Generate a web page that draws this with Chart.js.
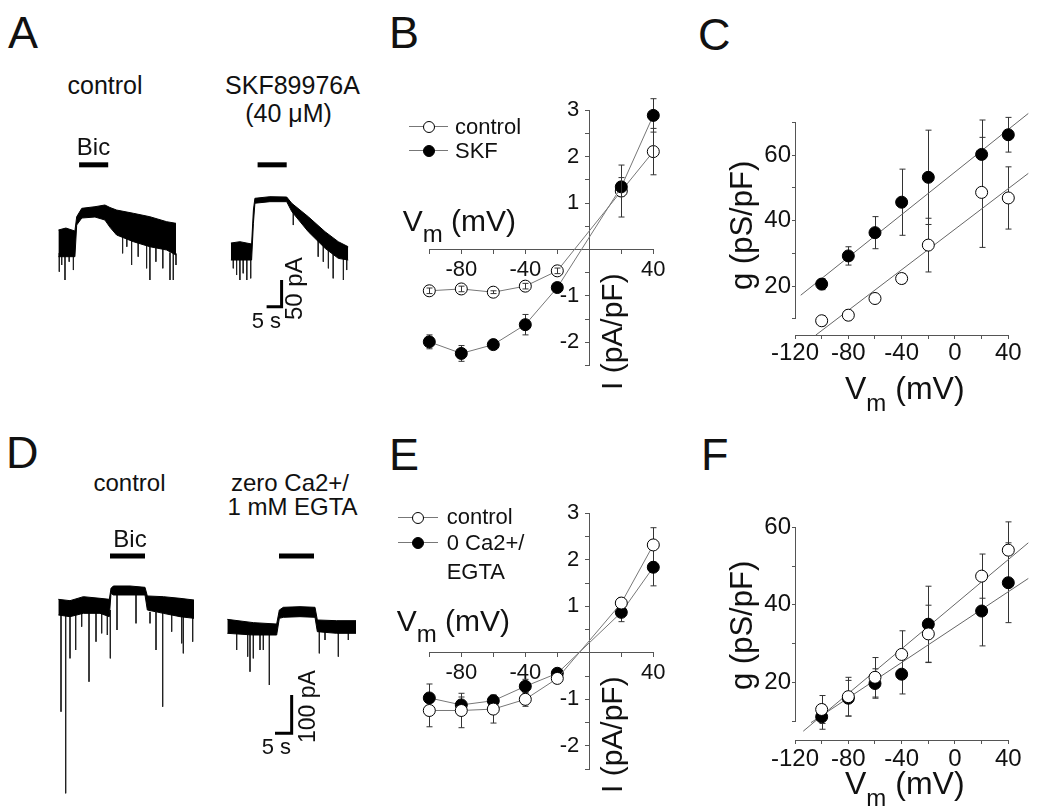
<!DOCTYPE html>
<html>
<head>
<meta charset="utf-8">
<script src="https://cdn.jsdelivr.net/npm/chart.js@4.4.1/dist/chart.umd.min.js"></script>
<style>
  body { margin: 0; width: 1050px; height: 812px; position: relative; overflow: hidden; background: #fff;
         font-family: 'Liberation Sans', Arial, Helvetica, sans-serif; color: #111; }
  .t { position: absolute; white-space: nowrap; line-height: 1; }
  canvas { position: absolute; }
</style>
</head>
<body>
<script>
// ---- traces (A, D): time in s, current in pA, edges of the noise band ----
const a1T   = [2.8, 5.3, 8.3, 8.9, 10.6, 15, 18.3, 20, 22.2, 27.8, 33.3, 38.9, 42];
const a1Top = [28, 31.7, 26.1, 52.8, 68.5, 71.5, 74.7, 70, 65.3, 59.2, 52.8, 43.5, 40.5];
const a1Bot = [-21.8, -21.8, -21.8, 37.3, 50.4, 52.3, 46.7, 33, 18.7, 6.2, -3.2, -9.3, -18.7];
// [time, from, tip]
const a1Spikes = [[3.1, -15, -49.8], [3.9, -15, -37.3], [5.0, -15, -65.3], [6.4, -15, -31.2], [7.8, -15, -46.7],
  [24.2, 20, -15.5], [25.6, 12, -3.2], [27.2, 8, -37.3], [29.4, 4, -21.8], [32.2, 0, -43.5], [33.3, -2, -65.3],
  [35.3, -5, -31.2], [37.6, -8, -43.5], [40.0, -14, -65.3], [41.1, -15, -65.3], [42.0, -16, -37.3]];

const a2T   = [60.3, 63.3, 67.2, 67.8, 68.3, 73.3, 78.9, 80.6, 86.1, 91.7, 96.1, 99.4];
const a2Top = [3.7, 6.2, 1.9, 65.3, 87.2, 90.2, 89.6, 77.8, 52.8, 24.8, 6.2, -3.2];
const a2Bot = [-28, -28, -28, 40, 78, 80.9, 80.9, 62.4, 24.8, -6.2, -24.9, -28];
const a2Spikes = [[61.1, -20, -43.5], [62.2, -20, -56], [63.3, -20, -65.3], [64.4, -20, -52.8], [65.6, -20, -65.3],
  [66.9, -20, -62.2], [81.1, 60, 37.3], [89.4, 10, -21.8], [91.1, 0, -31.2], [92.8, -5, -43.5],
  [94.4, -10, -62.2], [97.8, -20, -65.3], [98.9, -24, -46.7]];

const aBicT = [[9.7, 19.4], [69.2, 78.9]];
const aBicI = 149.7;
const aScaleT = [77.2, 77.2, 72.2];   // 5 s
const aScaleI = [-65.3, -115.3, -115.3]; // 50 pA

const d1T   = [2.5, 6, 10, 15, 17.8, 18.3, 19, 24, 28.5, 29.2, 34, 39, 43.2];
const d1Top = [27.9, 24.4, 34.8, 30.5, 27.9, 56.6, 62.7, 62.7, 59.2, 36.6, 34.8, 30.5, 26.1];
const d1Bot = [-13.1, -17.4, -8.7, -8.7, -17.4, 43.5, 39.2, 39.2, 39.2, 0, -8.7, -17.4, -21.8];
const d1Spikes = [[3.3, -10, -265.5], [4.7, -10, -478.6], [6.0, -10, -126.2], [7.7, -8, -104.4], [9.5, -5, -43.5],
  [11.7, -5, -187.2], [13.8, -5, -82.7], [15.5, -5, -60.9], [17.2, -10, -65.3], [18.1, 0, -126.2],
  [20.1, 40, -52.2], [25.8, 40, -34.8], [30, -5, -34.8], [31.8, -5, -104.4], [33.8, -5, -252.5],
  [36.5, -8, -56.6], [39.5, -10, -87], [40, -10, -113.1], [42.8, -15, -82.7]];

const d2T   = [53.2, 61, 68, 68.8, 70, 75, 79.5, 80.2, 86, 91.8];
const d2Top = [-24.4, -33, -36.6, 0, 7, 8.7, 7, -26.1, -27.9, -27.9];
const d2Bot = [-60.9, -65.3, -65.3, -21.8, -19.1, -17.4, -19.1, -56.6, -60.9, -60.9];
const d2Spikes = [[56, -55, -104.4], [59.3, -60, -121.8], [60, -60, -161.1], [61, -60, -126.2], [63, -60, -104.4],
  [64, -60, -104.4], [65.8, -60, -195.8], [80.8, -50, -113.1], [82.5, -55, -78.3], [86.5, -55, -121.8],
  [89.5, -55, -78.3]];

const dBicT = [[18, 28.5], [68.7, 79.2]];
const dBicI = 141;
const dScaleT = [72.5, 72.5, 67.5];   // 5 s
const dScaleI = [-222, -322, -322];   // 100 pA

// ---- I-V curves (B, E) ----
const ivV = [-100, -80, -60, -40, -20, 20, 40];
const bControl    = [-0.89, -0.85, -0.92, -0.79, -0.46, 1.26, 2.11];
const bControlErr = [0.06, 0.06, 0.03, 0.06, 0.06, 0.56, 0.5];
const bSkf        = [-1.99, -2.24, -2.05, -1.62, -0.82, 1.35, 2.89];
const bSkfErr     = [0.15, 0.17, 0.1, 0.22, 0.05, 0.2, 0.36];

const eControl    = [-1.24, -1.24, -1.21, -1.0, -0.55, 1.07, 2.32];
const eControlErr = [0.35, 0.37, 0.3, 0.15, 0.05, 0.12, 0.37];
const eCa         = [-0.97, -1.12, -1.03, -0.72, -0.44, 0.87, 1.84];
const eCaErr      = [0.3, 0.17, 0.12, 0.15, 0.05, 0.2, 0.4];

const ivXTicks  = [-100, -80, -60, -40, -20, 0, 20, 40];
const ivXLabels = [-80, -40, 40];
const ivYTicks  = [-2.5, -2, -1.5, -1, -0.5, 0, 0.5, 1, 1.5, 2, 2.5, 3];
const ivYLabels = [-2, -1, 1, 2, 3];

// ---- conductance (C, F) ----
const gV = [-100, -80, -60, -40, -20, 20, 40];
const cSkf        = [20.6, 29.2, 36.3, 45.6, 53.2, 60.2, 66.2];
const cSkfErr     = [1.7, 2.8, 4.9, 10.1, 14.4, 10.5, 5.3];
const cControl    = [9.4, 11.1, 16.2, 22.3, 32.5, 48.6, 46.9];
const cControlErr = [1.5, 1.5, 0.5, 1.5, 8.2, 16.8, 9.5];
const cFitSkfV = [-115.7, 55], cFitSkfG = [17.2, 72.7];
const cFitControlV = [-104.5, 55], cFitControlG = [5, 54.4];

const fControl    = [13.0, 16.3, 21.3, 27.2, 32.5, 47.4, 54.1];
const fControlErr = [3.6, 5.0, 5.1, 6.1, 7.4, 5.7, 7.3];
const fCa         = [11.1, 15.9, 19.7, 22.1, 35.0, 38.4, 45.7];
const fCaErr      = [3.2, 4.6, 3.8, 5.1, 9.8, 9.0, 10.3];
const fFitControlV = [-113.8, 55], fFitControlG = [7.4, 56.0];
const fFitCaV = [-108, 55], fFitCaG = [9.6, 46.8];

const gXTicks  = [-120, -100, -80, -60, -40, -20, 0, 20, 40];
const gXLabels = [-120, -80, -40, 0, 40];
const gYLabels = [20, 40, 60];

// ---------------------------------------------------------------
Chart.defaults.font.family = "'Liberation Sans', Arial, Helvetica, sans-serif";
Chart.defaults.color = '#111';

const pts = (xs, ys) => xs.map((x, i) => ({ x, y: ys[i] }));
const spikePts = list => list.flatMap(([t, from, tip]) => [{ x: t, y: from }, { x: t, y: tip }, { x: t, y: null }]);

function makeCanvas(left, top, w, h) {
  const c = document.createElement('canvas');
  c.width = w; c.height = h;
  c.style.left = left + 'px'; c.style.top = top + 'px';
  c.style.width = w + 'px'; c.style.height = h + 'px';
  document.body.appendChild(c);
  return c;
}

function text(html, x, base, size, align) {
  const d = document.createElement('div');
  d.className = 't';
  d.innerHTML = html;
  d.style.fontSize = size + 'px';
  d.style.left = x + 'px';
  d.style.top = (base - 0.8465 * size) + 'px';
  if (align === 'center') d.style.transform = 'translateX(-50%)';
  if (align === 'right') d.style.transform = 'translateX(-100%)';
  document.body.appendChild(d);
}

// rotated -90deg, reading upwards; xBase = baseline x, yStart = where the text begins
function vtext(str, xBase, yStart, size) {
  const d = document.createElement('div');
  d.className = 't';
  d.textContent = str;
  d.style.fontSize = size + 'px';
  d.style.left = (xBase - 0.8465 * size) + 'px';
  d.style.top = yStart + 'px';
  d.style.transformOrigin = '0 0';
  d.style.transform = 'rotate(-90deg)';
  document.body.appendChild(d);
}

function legendRow(x0, x1, cy, filled, label, tx, base, size) {
  const ln = document.createElement('div');
  ln.style.cssText = `position:absolute;left:${x0}px;top:${cy - 0.5}px;width:${x1 - x0}px;height:1px;background:#777`;
  document.body.appendChild(ln);
  const cx = (x0 + x1) / 2;
  const c = document.createElement('div');
  c.style.cssText = `position:absolute;left:${cx - 6}px;top:${cy - 6}px;width:12px;height:12px;box-sizing:border-box;` +
    `border:1px solid #000;border-radius:50%;background:${filled ? '#000' : '#fff'}`;
  document.body.appendChild(c);
  text(label, tx, base, size);
}

const vmLabel = (big, small) =>
  `V<span style="font-size:${small}px;vertical-align:-${Math.round(big * 0.37)}px">m</span> (mV)`;

// error bars drawn through the chart's own scales
function drawErrors(chart, front) {
  const { ctx } = chart;
  const xs = chart.scales.x, ys = chart.scales.y;
  chart.data.datasets.forEach(ds => {
    if (!ds.err || !!ds.errFront !== front) return;
    ctx.save();
    ctx.strokeStyle = '#333';
    ctx.lineWidth = 1;
    ds.data.forEach((p, i) => {
      const px = Math.round(xs.getPixelForValue(p.x)) + 0.5;
      const top = ys.getPixelForValue(p.y + ds.err[i]);
      const bot = ys.getPixelForValue(p.y - ds.err[i]);
      ctx.beginPath();
      ctx.moveTo(px, top); ctx.lineTo(px, bot);
      ctx.moveTo(px - 3, top); ctx.lineTo(px + 3, top);
      ctx.moveTo(px - 3, bot); ctx.lineTo(px + 3, bot);
      ctx.stroke();
    });
    ctx.restore();
  });
}
const errorBars = {
  id: 'errorBars',
  beforeDatasetsDraw(chart) { drawErrors(chart, false); },
  afterDatasetsDraw(chart) { drawErrors(chart, true); }
};

const ticksAt = values => axis => { axis.ticks = values.map(value => ({ value })); };
const labelIf = list => v => (list.includes(v) ? String(v) : '');

function axisX(min, max, atY, tickVals, labelVals, tickLen, pad, size) {
  return {
    type: 'linear', min, max, position: { y: atY },
    afterBuildTicks: ticksAt(tickVals),
    grid: { drawOnChartArea: false, tickLength: tickLen, color: '#555' },
    border: { color: '#555', width: 1 },
    ticks: { autoSkip: false, maxRotation: 0, padding: pad, font: { size }, color: '#111', callback: labelIf(labelVals) }
  };
}
function axisY(min, max, atX, tickVals, tickLen) {
  return {
    type: 'linear', min, max, position: { x: atX },
    afterBuildTicks: ticksAt(tickVals),
    grid: { drawOnChartArea: false, tickLength: tickLen, color: '#555' },
    border: { color: '#555', width: 1 },
    ticks: { display: false }
  };
}
function axisYLabels(min, max, atX, labelVals, size) {
  return {
    type: 'linear', min, max, position: { x: atX },
    afterBuildTicks: ticksAt(labelVals),
    grid: { display: false, drawTicks: false },
    border: { display: false },
    ticks: { padding: 0, font: { size }, color: '#111' }
  };
}

function marker(filled) {
  return {
    pointRadius: 6, pointBorderWidth: 1, pointBorderColor: '#000',
    pointBackgroundColor: filled ? '#000' : '#fff', clip: false
  };
}

function plotChart(canvas, pad, scales, datasets) {
  return new Chart(canvas, {
    type: 'line',
    data: { datasets },
    plugins: [errorBars],
    options: {
      responsive: false, animation: false, devicePixelRatio: 1, events: [],
      layout: { padding: pad },
      plugins: { legend: { display: false }, tooltip: { enabled: false } },
      scales
    }
  });
}

// ---- trace panels ----
function traceChart(canvas, xr, yr, datasets) {
  return new Chart(canvas, {
    type: 'line',
    data: { datasets },
    options: {
      responsive: false, animation: false, devicePixelRatio: 1, events: [],
      layout: { padding: 0 },
      plugins: { legend: { display: false }, tooltip: { enabled: false } },
      scales: {
        x: { type: 'linear', display: false, min: xr[0], max: xr[1] },
        y: { type: 'linear', display: false, min: yr[0], max: yr[1] }
      }
    }
  });
}
const bandTop = (t, v) => ({ data: pts(t, v), borderColor: '#000', borderWidth: 1, pointRadius: 0, fill: false, clip: false });
const bandBot = (t, v) => ({ data: pts(t, v), borderColor: '#000', borderWidth: 1, pointRadius: 0, fill: '-1', backgroundColor: '#000', clip: false });
const spikeSet = list => ({ data: spikePts(list), borderColor: '#222', borderWidth: 1, pointRadius: 0, spanGaps: false, clip: false });
const barSet = (span, level) => ({ data: pts(span, [level, level]), borderColor: '#000', borderWidth: 5, borderCapStyle: 'butt', pointRadius: 0, clip: false });
const scaleSet = (t, v) => ({ data: pts(t, v), borderColor: '#000', borderWidth: 3, borderCapStyle: 'butt', pointRadius: 0, clip: false });

traceChart(makeCanvas(40, 130, 330, 210), [-3.333, 106.667], [-177.3, 214.7], [
  bandTop(a1T, a1Top), bandBot(a1T, a1Bot),
  bandTop(a2T, a2Top), bandBot(a2T, a2Bot),
  spikeSet(a1Spikes), spikeSet(a2Spikes),
  barSet(aBicT[0], aBicI), barSet(aBicT[1], aBicI),
  scaleSet(aScaleT, aScaleI)
]);

traceChart(makeCanvas(40, 520, 330, 280), [-3, 96], [-496.1, 235], [
  bandTop(d1T, d1Top), bandBot(d1T, d1Bot),
  bandTop(d2T, d2Top), bandBot(d2T, d2Bot),
  spikeSet(d1Spikes), spikeSet(d2Spikes),
  barSet(dBicT[0], dBicI), barSet(dBicT[1], dBicI),
  scaleSet(dScaleT, dScaleI)
]);

// ---- B ----
plotChart(makeCanvas(389, 90, 290, 320), { left: 40.3, top: 20.3, right: 25.7, bottom: 44.5 }, {
  x: axisX(-100, 40, 0, ivXTicks, ivXLabels, 4, 3, 22),
  y: axisY(-2.5, 3, 0, ivYTicks, 4),
  yl: axisYLabels(-2.5, 3, -6.25, ivYLabels, 22)
}, [
  Object.assign({ label: 'SKF', data: pts(ivV, bSkf), err: bSkfErr, borderColor: '#777', borderWidth: 1, yAxisID: 'y' }, marker(true)),
  Object.assign({ label: 'control', data: pts(ivV, bControl), err: bControlErr, errFront: true, borderColor: '#777', borderWidth: 1, yAxisID: 'y' }, marker(false))
]);

// ---- E ----
plotChart(makeCanvas(389, 493, 290, 312), { left: 40.3, top: 20.3, right: 25.7, bottom: 35.9 }, {
  x: axisX(-100, 40, 0, ivXTicks, ivXLabels, 4, 3, 22),
  y: axisY(-2.5, 3, 0, ivYTicks, 4),
  yl: axisYLabels(-2.5, 3, -6.25, ivYLabels, 22)
}, [
  Object.assign({ label: 'control', data: pts(ivV, eControl), err: eControlErr, borderColor: '#777', borderWidth: 1, yAxisID: 'y' }, marker(false)),
  Object.assign({ label: '0 Ca2+/EGTA', data: pts(ivV, eCa), err: eCaErr, borderColor: '#777', borderWidth: 1, yAxisID: 'y' }, marker(true))
]);

// ---- C ----
const fitSet = (v, g) => ({ data: pts(v, g), borderColor: '#666', borderWidth: 1, pointRadius: 0, clip: false, yAxisID: 'y' });
plotChart(makeCanvas(745, 100, 295, 275), { left: 50, top: 22.3, right: 31.7, bottom: 56.2 }, {
  x: axisX(-120, 40, 5, gXTicks, gXLabels, 3, 1, 24),
  y: axisY(10, 70, -120, [10, 20, 30, 40, 50, 60, 70], 3),
  yl: axisYLabels(10, 70, -123, gYLabels, 24)
}, [
  Object.assign({ label: 'control', data: pts(gV, cControl), err: cControlErr, showLine: false, yAxisID: 'y' }, marker(false)),
  Object.assign({ label: 'SKF', data: pts(gV, cSkf), err: cSkfErr, showLine: false, yAxisID: 'y' }, marker(true)),
  fitSet(cFitSkfV, cFitSkfG),
  fitSet(cFitControlV, cFitControlG)
]);

// ---- F ----
plotChart(makeCanvas(745, 505, 295, 275), { left: 50, top: 22.3, right: 31.7, bottom: 58.9 }, {
  x: axisX(-120, 40, 5, gXTicks, gXLabels, 3, 1, 24),
  y: axisY(10, 60, -120, [10, 20, 30, 40, 50, 60], 3),
  yl: axisYLabels(10, 60, -123, gYLabels, 24)
}, [
  Object.assign({ label: 'control', data: pts(gV, fControl), err: fControlErr, showLine: false, yAxisID: 'y' }, marker(false)),
  Object.assign({ label: '0 Ca2+/EGTA', data: pts(gV, fCa), err: fCaErr, showLine: false, yAxisID: 'y' }, marker(true)),
  fitSet(fFitControlV, fFitControlG),
  fitSet(fFitCaV, fFitCaG)
]);

// ---- text ----
text('A', 8, 48, 45);
text('B', 389, 48, 45);
text('C', 698, 50, 45);
text('D', 6, 468, 45);
text('E', 389, 470, 45);
text('F', 701, 470, 45);

text('control', 105, 94, 25, 'center');
text('SKF89976A', 292.5, 94, 25, 'center');
text('(40 μM)', 288.5, 122, 25, 'center');
text('Bic', 93.5, 155, 24, 'center');
text('5 s', 281, 329, 22, 'right');
vtext('50 pA', 302, 320, 24);

text('control', 129.5, 491, 24, 'center');
text('zero Ca2+/', 290, 491, 24, 'center');
text('1 mM EGTA', 292.5, 515, 24, 'center');
text('Bic', 130, 547, 24, 'center');
text('5 s', 291, 755, 22, 'right');
vtext('100 pA', 315, 743, 23);

text(vmLabel(30, 24), 402.7, 231.7, 30);
vtext('I (pA/pF)', 622, 389.5, 30);
legendRow(409, 448, 126.7, false, 'control', 455, 134.3, 22);
legendRow(409, 448, 150.7, true, 'SKF', 455, 159, 22);

text(vmLabel(30, 24), 396.7, 631.7, 30);
vtext('I (pA/pF)', 622, 793, 30);
legendRow(398, 438, 517.5, false, 'control', 446.7, 525, 22);
legendRow(398, 438, 542.5, true, '0 Ca2+/', 446.7, 550.7, 22);
text('EGTA', 446.7, 579.3, 22);

text(vmLabel(32, 24), 845, 399, 32);
vtext('g (pS/pF)', 752, 290, 31);
text(vmLabel(32, 24), 845, 794, 32);
vtext('g (pS/pF)', 752, 690, 31);
</script>
</body>
</html>
